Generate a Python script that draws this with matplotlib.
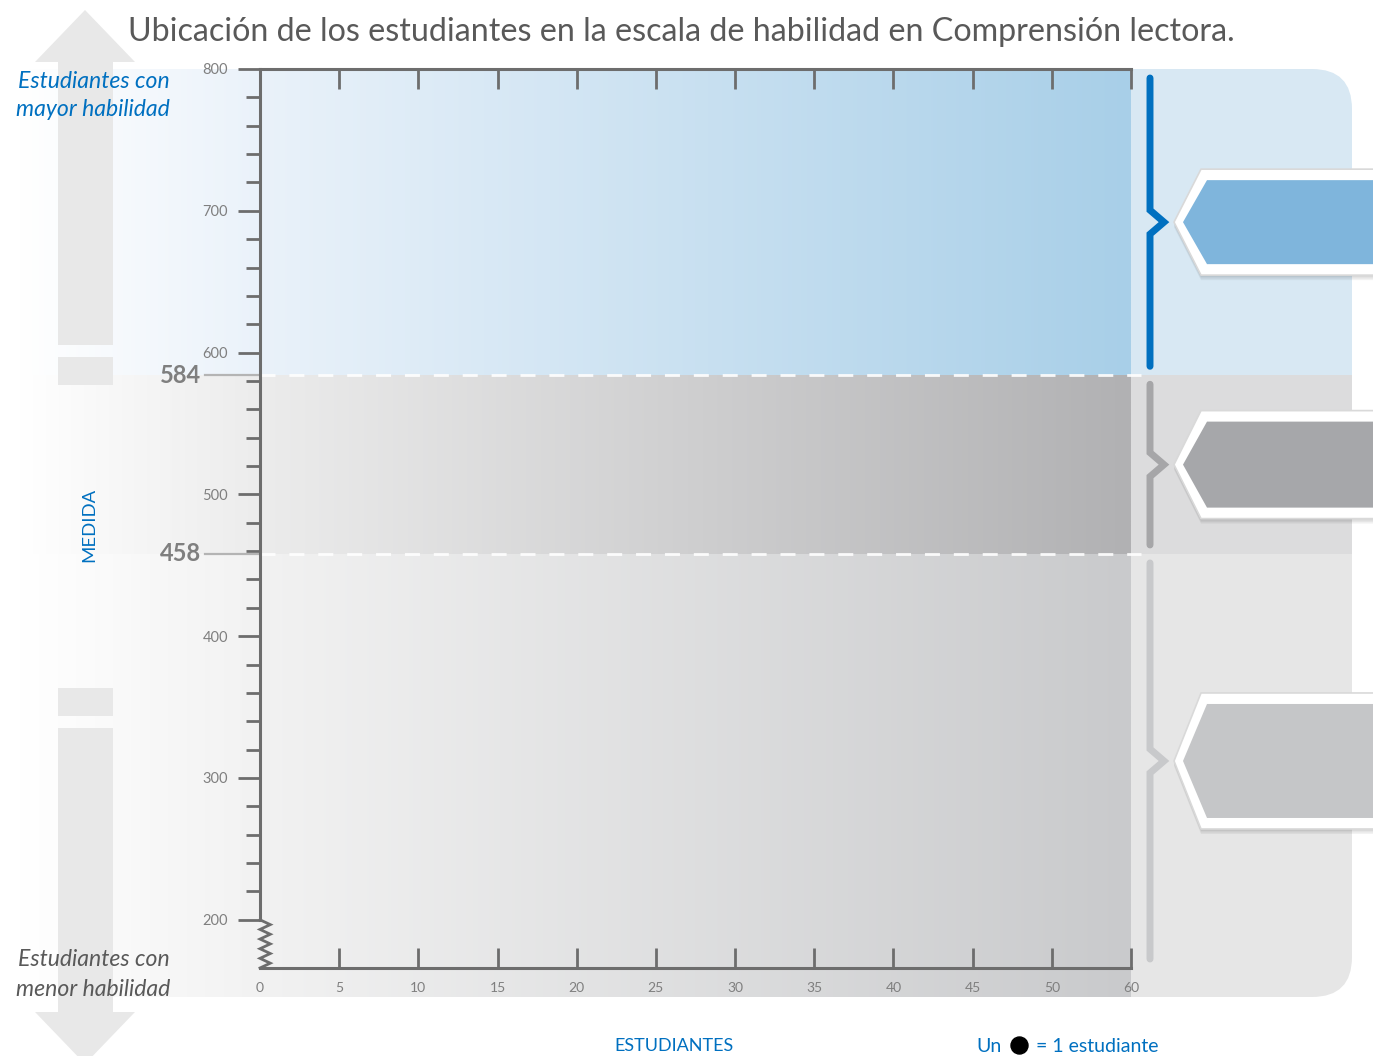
import numpy as np
import matplotlib.pyplot as plt
from matplotlib.patches import Polygon, Rectangle, FancyBboxPatch
from matplotlib.colors import to_rgb
from matplotlib.ticker import FixedLocator

plt.rcParams['font.family'] = ['Lato', 'DejaVu Sans']

# ---- datos del grafico ----
titulo = 'Ubicación de los estudiantes en la escala de habilidad en Comprensión lectora.'
puntos_corte = [458, 584]            # limites entre niveles de desempeno
escala_min, escala_max = 166, 800    # rango visible de la escala
ticks_x = list(range(0, 56, 5))      # marcas del eje de estudiantes
etiquetas_x = ['0', '5', '10', '15', '20', '25', '30', '35', '40', '45', '50', '60']
ticks_y = list(range(200, 801, 100))
ticks_y_menores = [v for v in range(220, 800, 20) if v % 100]
puntajes_estudiantes = []            # plantilla sin estudiantes ubicados

# colores por nivel (de abajo hacia arriba)
col_izq = ['#f2f2f2', '#ececec', '#eaf2fa']
col_der = ['#c9cacc', '#b1b1b3', '#a8cfe8']
col_panel = ['#e6e6e6', '#dcdcdd', '#d8e8f3']
col_corchete = ['#c8c9cb', '#a6a6a8', '#0070c0']
col_flecha = ['#c5c6c8', '#a6a7aa', '#7fb5dc']

AZUL = '#0070c0'
GRIS_TXT = '#595959'
GRIS_EJE = '#6d6d6d'
W, H = 1373, 1056

fig = plt.figure(figsize=(W / 100, H / 100), dpi=100)
bg = fig.add_axes([0, 0, 1, 1], zorder=0)
ax = fig.add_axes([260 / W, 1 - 968 / H, 871 / W, 899 / H], zorder=1)
ax.set_xlim(ticks_x[0], ticks_x[-1])
ax.set_ylim(escala_min, escala_max)
ax.patch.set_alpha(0)


def fila(v):
    '''valor de la escala -> fila de pixel (desde arriba)'''
    return H - ax.transData.transform((0, v))[1]


def col(v):
    '''posicion en el eje x -> columna de pixel'''
    return ax.transData.transform((v, 0))[0]


# ---- fondo por niveles ----
x_der = col(ticks_x[-1])
limites = [None] + puntos_corte + [escala_max]
fondo_inf = 997
marco = FancyBboxPatch((0, fila(escala_max)), 1352, fondo_inf - fila(escala_max),
                       boxstyle='round,pad=0,rounding_size=40', transform=bg.transData,
                       facecolor='none', edgecolor='none')
bg.add_patch(marco)
xs = np.linspace(0, x_der, 700)
for i in range(3):
    y_top = fila(limites[i + 1])
    y_bot = fondo_inf if limites[i] is None else fila(limites[i])
    c0, c1 = np.array(to_rgb(col_izq[i])), np.array(to_rgb(col_der[i]))
    pts = [0, 20, col(0), x_der]
    cols = [np.ones(3), np.ones(3), c0, c1]
    img = np.stack([np.interp(xs, pts, [c[k] for c in cols]) for k in range(3)], axis=-1)
    im = bg.imshow(img[None, :, :], extent=[0, x_der, y_bot, y_top], aspect='auto',
                   interpolation='bilinear', zorder=1)
    im.set_clip_path(marco)
    r = Rectangle((x_der, y_top), 1352 - x_der, y_bot - y_top, facecolor=col_panel[i],
                  edgecolor='none', zorder=1)
    bg.add_patch(r)
    r.set_clip_path(marco)

# ---- flecha lateral ----
gris_flecha = '#e8e8e8'
bg.add_patch(Polygon([(85, 10), (135, 62), (113, 62), (113, 345), (58, 345), (58, 62), (35, 62)],
                     closed=True, facecolor=gris_flecha, edgecolor='none', zorder=2))
bg.add_patch(Rectangle((58, 357), 55, 28, facecolor=gris_flecha, edgecolor='none', zorder=2))
bg.add_patch(Rectangle((58, 688), 55, 28, facecolor=gris_flecha, edgecolor='none', zorder=2))
bg.add_patch(Polygon([(58, 728), (113, 728), (113, 1012), (135, 1012), (85, 1064), (35, 1012), (58, 1012)],
                     closed=True, facecolor=gris_flecha, edgecolor='none', zorder=2))

# ---- corchetes y flechas de nivel ----
lim_corchete = [escala_min] + puntos_corte + [escala_max]
medias_alto = [68, 54, 53]
for i in range(3):
    y_top = fila(lim_corchete[i + 1]) + 9
    y_bot = fila(lim_corchete[i]) - 9
    yc = (fila(lim_corchete[i + 1]) + fila(lim_corchete[i])) / 2
    xb = 1150
    bg.plot([xb, xb, xb + 14, xb, xb], [y_top, yc - 12, yc, yc + 12, y_bot],
            color=col_corchete[i], lw=5, solid_capstyle='round', solid_joinstyle='miter', zorder=3)
    h = medias_alto[i]
    hi = h - 11
    for k, a in enumerate([0.05, 0.05, 0.05]):
        d = 2 + k * 1.5
        sombra = [(1174, yc + d), (1201, yc - h + d), (W + 20, yc - h + d),
                  (W + 20, yc + h + d), (1201, yc + h + d)]
        bg.add_patch(Polygon(sombra, closed=True, facecolor='#000000', alpha=a,
                             edgecolor='none', zorder=3))
    exterior = [(1174, yc), (1201, yc - h), (W + 20, yc - h), (W + 20, yc + h), (1201, yc + h)]
    bg.add_patch(Polygon(exterior, closed=True, facecolor='white', edgecolor='#d9d9d9',
                         lw=1.2, joinstyle='round', zorder=4))
    interior = [(1183, yc), (1207, yc - hi), (W + 20, yc - hi), (W + 20, yc + hi), (1207, yc + hi)]
    bg.add_patch(Polygon(interior, closed=True, facecolor=col_flecha[i], edgecolor='none', zorder=5))

bg.set_xlim(0, W)
bg.set_ylim(H, 0)
bg.axis('off')

# ---- ejes ----
ax.spines['right'].set_visible(False)
for s in ['left', 'top', 'bottom']:
    ax.spines[s].set_color(GRIS_EJE)
    ax.spines[s].set_linewidth(2.2)
ax.spines['left'].set_bounds(ticks_y[0], escala_max)

ax.set_xticks(ticks_x)
ax.set_xticklabels(etiquetas_x)
ax.set_yticks(ticks_y)
ax.set_yticklabels([str(t) for t in ticks_y])
ax.yaxis.set_minor_locator(FixedLocator(ticks_y_menores))
ax.tick_params(axis='x', which='major', direction='in', top=True, bottom=True,
               length=14.5, width=2.0, color=GRIS_EJE, labelsize=10,
               labelcolor='#7f7f7f', pad=10)
ax.tick_params(axis='y', which='major', direction='out', length=16, width=2.0,
               color=GRIS_EJE, labelsize=10.5, labelcolor='#7f7f7f', pad=7)
ax.tick_params(axis='y', which='minor', direction='out', length=10, width=2.0, color=GRIS_EJE)
t0 = ax.xaxis.get_major_ticks()[0]
t0.tick1line.set_visible(False)
t0.tick2line.set_visible(False)

# corte de escala (zigzag)
zz_y = np.linspace(ticks_y[0], escala_min, 11)
zz_x = np.where(np.arange(11) % 2 == 1, 0.65, 0.0)
ax.plot(zz_x, zz_y, color=GRIS_EJE, lw=2.0, clip_on=False, solid_joinstyle='miter')

# puntos de corte
for v in puntos_corte:
    ax.plot([0, ticks_x[-1] + 0.6], [v, v], color='white', lw=2.0, alpha=0.9,
            ls=(0, (5.4, 5)), clip_on=False)
    ax.plot([-3.5, 0], [v, v], color='#b4b4b4', lw=1.6, clip_on=False)
    ax.text(-3.7, v, str(v), ha='right', va='center', fontsize=17, fontweight='bold',
            color='#7f7f7f')

if puntajes_estudiantes:
    ax.scatter(range(1, len(puntajes_estudiantes) + 1), puntajes_estudiantes, color='black', s=60)

# ---- textos ----
fig.text(681 / W, 1 - 32 / H, titulo, ha='center', va='center', fontsize=23.2, color=GRIS_TXT)
fig.text(170 / W, 1 - 82 / H, 'Estudiantes con', ha='right', va='center', fontsize=16.6,
         style='italic', color=AZUL)
fig.text(170 / W, 1 - 110 / H, 'mayor habilidad', ha='right', va='center', fontsize=16.6,
         style='italic', color=AZUL)
fig.text(170 / W, 1 - 960 / H, 'Estudiantes con', ha='right', va='center', fontsize=16.6,
         style='italic', color=GRIS_TXT)
fig.text(170 / W, 1 - 989 / H, 'menor habilidad', ha='right', va='center', fontsize=16.6,
         style='italic', color=GRIS_TXT)
fig.text(89 / W, 1 - 525 / H, 'MEDIDA', ha='center', va='center', rotation=90, fontsize=13.3,
         color=AZUL)
fig.text(674 / W, 1 - 1046 / H, 'ESTUDIANTES', ha='center', va='center', fontsize=13, color=AZUL)
fig.text(1002 / W, 1 - 1046 / H, 'Un', ha='right', va='center', fontsize=14, color=AZUL)
bg.scatter([1019], [1045], s=150, color='black', zorder=6, clip_on=False)
fig.text(1036 / W, 1 - 1046 / H, '= 1 estudiante', ha='left', va='center', fontsize=14, color=AZUL)

fig.savefig('out.png', dpi=100)
